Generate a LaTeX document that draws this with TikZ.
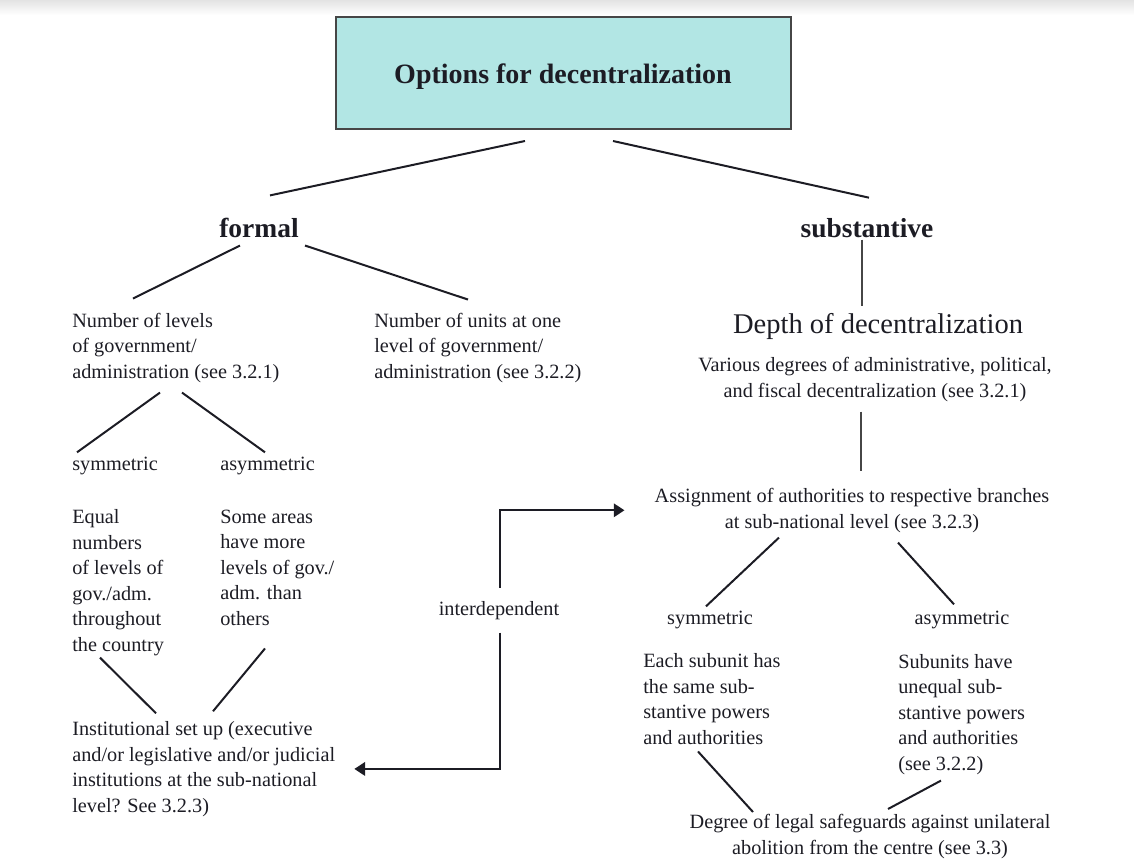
\documentclass[tikz,border=0pt]{standalone}
\usepackage{fontspec}
\setmainfont{Liberation Serif}
\usetikzlibrary{calc,arrows.meta}
\definecolor{ink}{RGB}{28,28,36}
\definecolor{boxfill}{RGB}{178,230,228}
\definecolor{vline}{RGB}{70,70,70}
\begin{document}
\begin{tikzpicture}[x=0.75pt,y=-0.75pt,
  txt/.style={inner sep=0pt, font=\fontsize{15.2}{19.1}\selectfont, text=ink, align=left},
  ctxt/.style={inner sep=0pt, font=\fontsize{15.2}{19.1}\selectfont, text=ink, align=center},
  headlabel/.style={inner sep=0pt, font=\fontsize{20.6}{24}\selectfont\bfseries, text=ink},
  conn/.style={draw=ink, line width=1.5pt},
  vconn/.style={draw=vline, line width=2.2pt},
  arr/.style={draw=ink, line width=1.7pt, -{Triangle[length=8pt,width=10pt]}}
]
\useasboundingbox (0,0) rectangle (1134,860);
\shade[top color=gray!22, bottom color=white, draw=none] (0,0) rectangle (1134,15);

% title box
\node[draw=vline, line width=1.5pt, fill=boxfill, minimum width=341.25pt, minimum height=84pt, inner sep=0pt] (title) at (563,73) {};
\node[inner sep=0pt, anchor=base, font=\fontsize{21}{24}\selectfont\bfseries, text=ink] (titletext) at (563,83) {Options for decentralization};

% level 1
\node[headlabel, anchor=base] (formal) at (259,237) {formal};
\node[headlabel, anchor=base] (subst) at (867,237) {substantive};
\draw[conn] ($(title.south)+(-38,11)$) -- ($(formal.north)+(11,-22)$);
\draw[conn] ($(title.south)+(50,11)$) -- ($(subst.north)+(2,-20)$);

% formal branch
\node[txt, anchor=base west] (levels) at (72,378) {Number of levels\\of government/\\administration (see 3.2.1)};
\node[txt, anchor=base west] (units) at (374,378) {Number of units at one\\level of government/\\administration (see 3.2.2)};
\draw[conn] ($(formal.south)+(-19,8)$) -- ($(levels.north west)+(61,-14)$);
\draw[conn] ($(formal.south)+(46,8)$) -- ($(units.north west)+(94,-13)$);

\node[txt, anchor=base west] (sym) at (72,470) {symmetric};
\node[txt, anchor=base west] (asym) at (220,470) {asymmetric};
\draw[conn] ($(levels.south west)+(88,10)$) -- ($(sym.north west)+(5,-4)$);
\draw[conn] ($(levels.south west)+(110,10)$) -- ($(asym.north west)+(45,-4)$);

\node[txt, anchor=base west] (equal) at (72,651) {Equal\\numbers\\of levels of\\gov./adm.\\throughout\\the country};
\node[txt, anchor=base west] (some) at (220,625) {Some areas\\have more\\levels of gov./\\adm. than\\others};
\node[txt, anchor=base west] (inst) at (72,812) {Institutional set up (executive\\and/or legislative and/or judicial\\institutions at the sub-national\\level? See 3.2.3)};
\draw[conn] ($(equal.south west)+(28,2)$) -- ($(inst.north west)+(84,-8)$);
\draw[conn] ($(some.south west)+(45,23)$) -- ($(inst.north west)+(141,-10)$);

% substantive branch
\node[inner sep=0pt, anchor=base, font=\fontsize{21.4}{24}\selectfont, text=ink] (depth) at (878,333) {Depth of decentralization};
\node[ctxt, anchor=base] (various) at (875,397) {Various degrees of administrative, political,\\and fiscal decentralization (see 3.2.1)};
\draw[vconn] ($(subst.south)+(-5,2)$) -- ($(depth.north)+(-16,-7)$);
\node[ctxt, anchor=base] (assign) at (852,528) {Assignment of authorities to respective branches\\at sub-national level (see 3.2.3)};
\draw[vconn] ($(various.south)+(-14,10)$) -- ($(assign.north)+(9,-17)$);

\node[txt, anchor=base] (rsym) at (710,624) {symmetric};
\node[txt, anchor=base] (rasym) at (962,624) {asymmetric};
\draw[conn] ($(assign.south)+(-73,5)$) -- ($(rsym.north)+(-4,-4)$);
\draw[conn] ($(assign.south)+(46,10)$) -- ($(rasym.north)+(-8,-6)$);

\node[txt, anchor=base west] (each) at (643,744) {Each subunit has\\the same sub-\\stantive powers\\and authorities};
\node[txt, anchor=base west] (subu) at (898,770) {Subunits have\\unequal sub-\\stantive powers\\and authorities\\(see 3.2.2)};
\node[ctxt, anchor=base] (degree) at (870,854) {Degree of legal safeguards against unilateral\\abolition from the centre (see 3.3)};
\draw[conn] ($(each.south west)+(55,7)$) -- ($(degree.north)+(-117,-2)$);
\draw[conn] ($(subu.south west)+(43,6)$) -- ($(degree.north)+(18,-5)$);

% interdependent
\node[inner sep=0pt, inner ysep=13pt*0.75, font=\fontsize{15.2}{19.1}\selectfont, text=ink, anchor=base] (inter) at (499,615) {interdependent};
\draw[arr] (inter.north -| 500,0) |- ($(assign.west)+(-30,0)$);
\draw[arr] (inter.south -| 500,0) |- ($(inst.east)+(19,0)$);
\end{tikzpicture}
\end{document}
